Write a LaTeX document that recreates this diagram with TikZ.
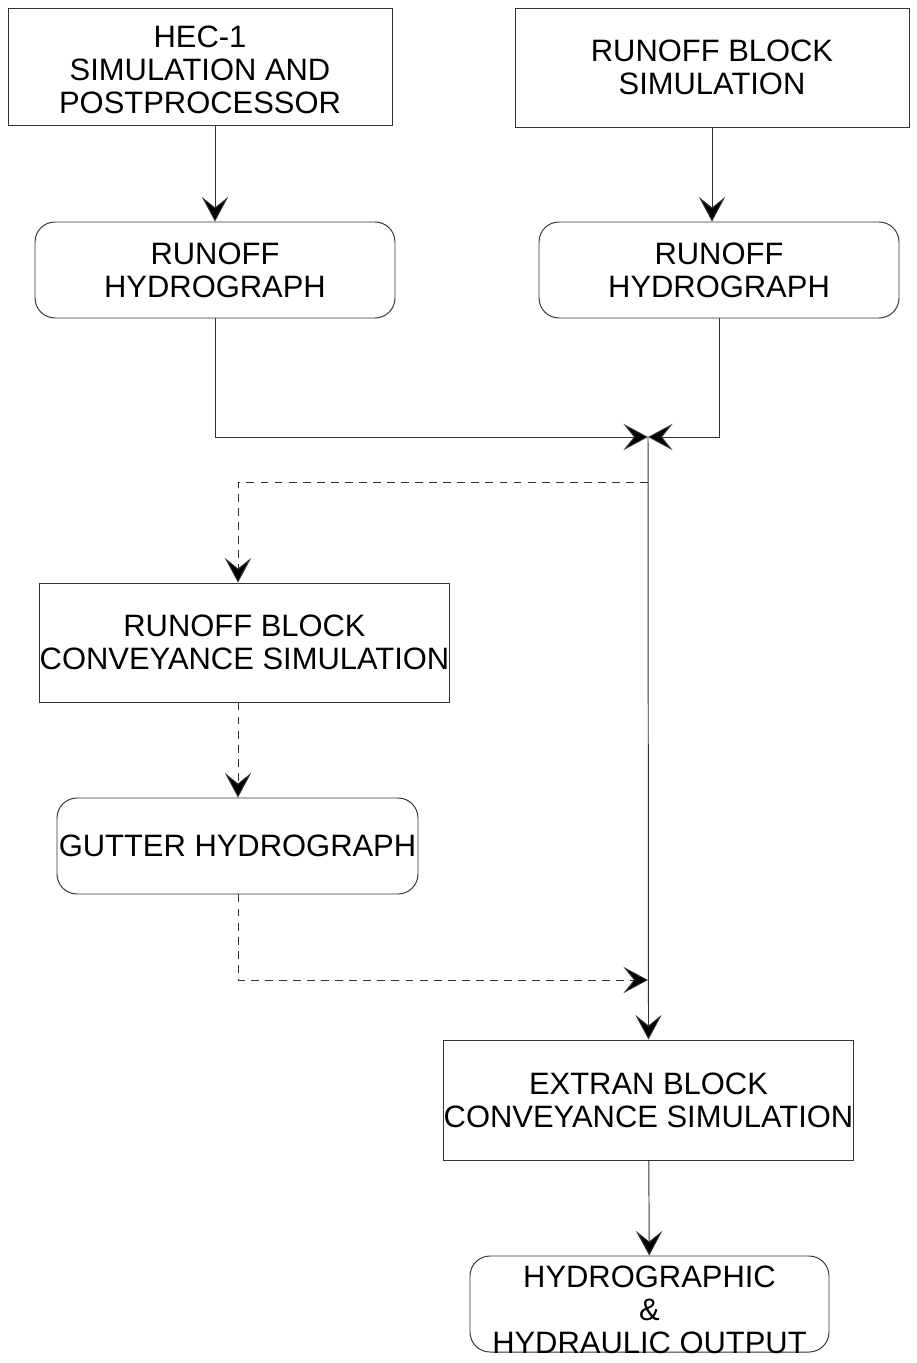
\documentclass[tikz,border=0pt]{standalone}
\usepackage{fontspec}
\setmainfont{Liberation Sans}
\usetikzlibrary{arrows.meta}

\begin{document}
\begin{tikzpicture}[line width=0.55pt, draw=black!80,
    font=\fontsize{17.6}{18.8}\selectfont,
    block/.style={draw, align=center, inner sep=0pt},
    rblock/.style={block, rounded corners=0.4cm},
    tip/.style={-{Stealth[length=14pt,width=15pt,inset=6pt,fill=black]}},
    dashline/.style={dash pattern=on 4.5pt off 3.5pt}]
    \useasboundingbox (0,0) rectangle (18.32,-27.26);

    \coordinate (J) at (12.96, -8.74);
    \coordinate (B) at (12.96, -9.64);
    \coordinate (C1) at (4.76, -9.64);
    \coordinate (C2) at (12.96, -19.6);
    \coordinate (C3) at (4.76, -19.6);

    \node[block, minimum width=7.68cm, minimum height=2.34cm] (hec) at (4.0, -1.33) {\rule{0pt}{16pt}HEC-1\\SIMULATION AND\\POSTPROCESSOR};
    \node[block, minimum width=7.88cm, minimum height=2.38cm] (rbsim) at (14.24, -1.35) {RUNOFF BLOCK\\SIMULATION};
    \node[rblock, minimum width=7.2cm, minimum height=1.92cm] (hydroA) at (4.3, -5.4) {RUNOFF\\HYDROGRAPH};
    \node[rblock, minimum width=7.2cm, minimum height=1.92cm] (hydroB) at (14.38, -5.4) {RUNOFF\\HYDROGRAPH};
    \node[block, minimum width=8.18cm, minimum height=2.38cm] (rbconv) at (4.89, -12.85) {RUNOFF BLOCK\\CONVEYANCE SIMULATION};
    \node[rblock, minimum width=7.22cm, minimum height=1.92cm] (gutter) at (4.75, -16.92) {GUTTER HYDROGRAPH};
    \node[block, minimum width=8.18cm, minimum height=2.4cm] (extran) at (12.97, -22.0) {EXTRAN BLOCK\\CONVEYANCE SIMULATION};
    \node[rblock, minimum width=7.18cm, minimum height=1.92cm] (output) at (12.99, -26.08) {};
    \node[align=center, inner sep=0pt] (outtext) at (12.99, -26.2) {HYDROGRAPHIC\\\&\\HYDRAULIC OUTPUT};

    \draw[tip] (hec.south -| hydroA) -- (hydroA.north);
    \draw[tip] (rbsim.south) -- (rbsim.south |- hydroB.north);
    \draw[tip] (hydroA.south) |- (J);
    \draw[tip] (hydroB.south) |- (J);
    \draw[tip] (J) -- (extran.north);
    \draw[tip] (extran) -- (output);

    \draw[dashline, tip] (B) -- (C1) -- (C1 |- rbconv.north);
    \draw[dashline, tip] (C1 |- rbconv.south) -- (C1 |- gutter.north);
    \draw[dashline, tip] (C1 |- gutter.south) -- (C3) -- (C2);

\end{tikzpicture}
\end{document}
